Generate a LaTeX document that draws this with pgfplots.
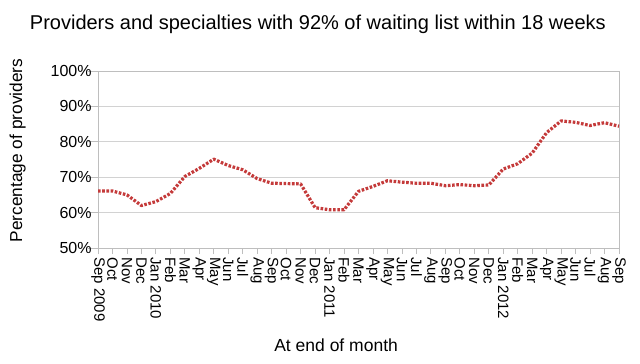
\documentclass[border=0pt]{standalone}
\usepackage{pgfplots}
\pgfplotsset{compat=1.18}
\usepackage{fontspec}
\setmainfont{Liberation Sans}
\definecolor{linered}{RGB}{196,58,58}
\definecolor{gridgray}{RGB}{210,210,210}
\definecolor{axisgray}{RGB}{190,190,190}
\begin{document}
\begin{tikzpicture}
\path[use as bounding box] (0,0) rectangle (640bp,364bp);
\begin{axis}[
  at={(98bp,116bp)}, anchor=south west,
  scale only axis, width=521bp, height=177bp,
  xmin=0, xmax=36, ymin=50, ymax=100,
  xtick={0,...,36},
  xticklabels={Sep 2009,Oct,Nov,Dec,Jan 2010,Feb,Mar,Apr,May,Jun,Jul,Aug,Sep,Oct,Nov,Dec,Jan 2011,Feb,Mar,Apr,May,Jun,Jul,Aug,Sep,Oct,Nov,Dec,Jan 2012,Feb,Mar,Apr,May,Jun,Jul,Aug,Sep},
  xticklabel style={rotate=-90, anchor=west, font=\fontsize{15bp}{15bp}\selectfont, inner sep=1bp, xshift=4bp},
  ytick={50,60,70,80,90,100},
  yticklabel={\pgfmathprintnumber{\tick}\%},
  yticklabel style={font=\fontsize{16bp}{16bp}\selectfont, inner sep=1bp, xshift=-1bp},
  /pgf/number format/assume math mode=true,
  tick align=outside, tick pos=left,
  xtick style={/pgfplots/major tick length=6bp},
  ytick style={/pgfplots/major tick length=10bp},
  tick style={axisgray, line width=0.8bp},
  ymajorgrids, grid style={gridgray, line width=0.9bp},
  axis line style={axisgray, line width=0.9bp},
  clip=false,
  title={Providers and specialties with 92\% of waiting list within 18 weeks},
  title style={font=\fontsize{20bp}{20bp}\selectfont, at={(axis description cs:0.422,1)}, anchor=center, yshift=41bp},
  ylabel={Percentage of providers},
  ylabel style={font=\fontsize{17.3bp}{17.3bp}\selectfont, at={(axis description cs:-0.154,0.55)}, anchor=center, rotate=0},
  xlabel={At end of month},
  xlabel style={font=\fontsize{17.5bp}{17.5bp}\selectfont, at={(axis description cs:0.457,-0.548)}, anchor=center},
]
\addplot[linered, line width=3.2bp, dash pattern=on 2.6bp off 1.6bp, line join=round] coordinates {
(0,66.1) (1,66.1) (2,65.0) (3,62.0) (4,63.1) (5,65.4) (6,70.2) (7,72.5) (8,75.1) (9,73.3) (10,72.1) (11,69.6)
(12,68.3) (13,68.2) (14,68.1) (15,61.4) (16,60.8) (17,60.8) (18,66.0) (19,67.4) (20,69.0) (21,68.6) (22,68.3)
(23,68.3) (24,67.6) (25,67.9) (26,67.6) (27,67.8) (28,72.3) (29,73.8) (30,76.8) (31,82.6) (32,85.9) (33,85.5) (34,84.6) (35,85.4) (36,84.4)
};
\end{axis}
\end{tikzpicture}
\end{document}
